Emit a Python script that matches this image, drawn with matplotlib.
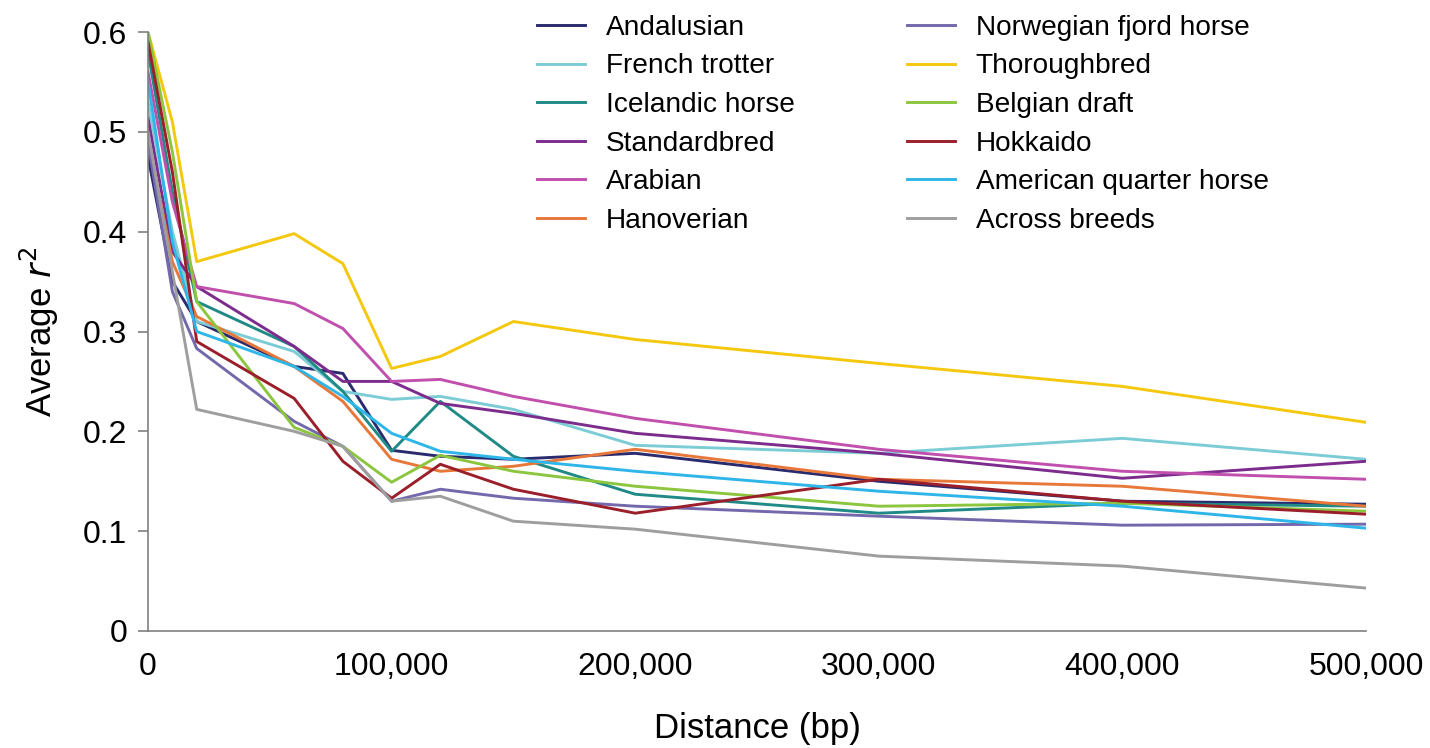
import matplotlib.pyplot as plt
from matplotlib.ticker import FuncFormatter

plt.rcParams['font.family'] = ['Liberation Sans', 'DejaVu Sans']

# distance bins (bp)
distance = [0, 10000, 20000, 60000, 80000, 100000, 120000, 150000,
            200000, 300000, 400000, 500000]

# average r^2 per breed
andalusian = [0.475, 0.35, 0.31, 0.265, 0.258, 0.181, 0.175, 0.172, 0.178, 0.150, 0.130, 0.127]
french_trotter = [0.53, 0.40, 0.31, 0.28, 0.24, 0.232, 0.235, 0.222, 0.186, 0.178, 0.193, 0.172]
icelandic = [0.58, 0.44, 0.33, 0.285, 0.24, 0.18, 0.23, 0.175, 0.137, 0.118, 0.128, 0.125]
standardbred = [0.514, 0.38, 0.345, 0.285, 0.25, 0.25, 0.228, 0.218, 0.198, 0.178, 0.153, 0.170]
arabian = [0.56, 0.43, 0.345, 0.328, 0.303, 0.25, 0.252, 0.235, 0.213, 0.182, 0.160, 0.152]
hanoverian = [0.494, 0.37, 0.315, 0.265, 0.23, 0.172, 0.160, 0.165, 0.182, 0.152, 0.145, 0.125]
norwegian = [0.49, 0.34, 0.283, 0.21, 0.185, 0.13, 0.142, 0.133, 0.125, 0.115, 0.106, 0.107]
thoroughbred = [0.60, 0.51, 0.37, 0.398, 0.368, 0.263, 0.275, 0.31, 0.292, 0.268, 0.245, 0.209]
belgian = [0.60, 0.48, 0.33, 0.204, 0.185, 0.149, 0.176, 0.16, 0.145, 0.125, 0.128, 0.120]
hokkaido = [0.59, 0.46, 0.29, 0.233, 0.17, 0.133, 0.167, 0.142, 0.118, 0.152, 0.130, 0.117]
quarter_horse = [0.55, 0.39, 0.30, 0.265, 0.235, 0.198, 0.180, 0.172, 0.160, 0.140, 0.125, 0.103]
across_breeds = [0.50, 0.36, 0.222, 0.20, 0.185, 0.13, 0.135, 0.11, 0.102, 0.075, 0.065, 0.043]

series = [
    ('Andalusian', andalusian, '#2a2a6e'),
    ('French trotter', french_trotter, '#7cccd6'),
    ('Icelandic horse', icelandic, '#1f8a86'),
    ('Standardbred', standardbred, '#7c2c8c'),
    ('Arabian', arabian, '#c04fae'),
    ('Hanoverian', hanoverian, '#e8783a'),
    ('Norwegian fjord horse', norwegian, '#7468ac'),
    ('Thoroughbred', thoroughbred, '#f4c80e'),
    ('Belgian draft', belgian, '#8cc63f'),
    ('Hokkaido', hokkaido, '#9a1f2a'),
    ('American quarter horse', quarter_horse, '#2fb6e8'),
    ('Across breeds', across_breeds, '#9e9e9e'),
]

fig = plt.figure(figsize=(14.3, 7.48), dpi=100)
ax = fig.add_axes([148 / 1430, 1 - 631 / 748, (1366 - 148) / 1430, (631 - 32) / 748])

for name, vals, col in series:
    ax.plot(distance, vals, color=col, lw=2.1, label=name)

ax.set_xlim(0, 500000)
ax.set_ylim(0, 0.6)
ax.set_xticks([0, 100000, 200000, 300000, 400000, 500000])
ax.set_yticks([0, 0.1, 0.2, 0.3, 0.4, 0.5, 0.6])
ax.xaxis.set_major_formatter(FuncFormatter(lambda v, p: f'{int(v):,}'))
ax.yaxis.set_major_formatter(FuncFormatter(lambda v, p: '0' if v == 0 else f'{v:.1f}'))
ax.tick_params(axis='both', labelsize=23, color='#808080', length=7, width=1.2)
ax.tick_params(axis='x', length=0, pad=15)
ax.tick_params(axis='y', pad=8)

for side in ['top', 'right']:
    ax.spines[side].set_visible(False)
for side in ['left', 'bottom']:
    ax.spines[side].set_color('#808080')
    ax.spines[side].set_linewidth(1.2)

ax.set_xlabel('Distance (bp)', fontsize=25, labelpad=22)
ax.set_ylabel('Average $\\mathit{r}^{2}$', fontsize=25, labelpad=16)

fig.legend(loc='upper left', bbox_to_anchor=(512 / 1430, 1.014), ncol=2,
           frameon=False, fontsize=20.2, handlelength=1.7, handletextpad=0.75,
           columnspacing=4.0, labelspacing=0.45)

fig.savefig('out.png', dpi=100)
